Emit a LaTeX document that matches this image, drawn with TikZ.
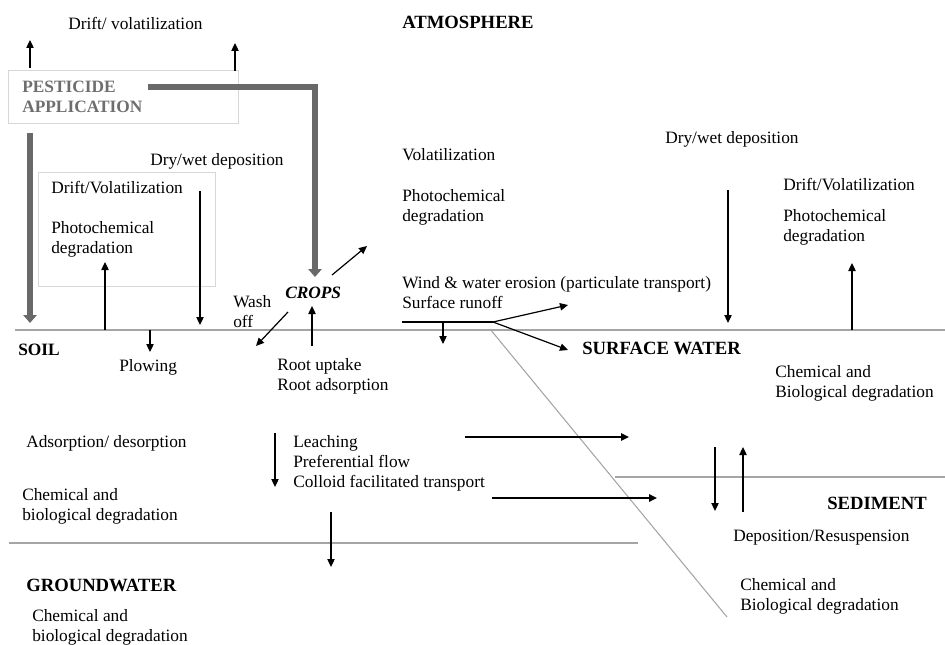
\documentclass[tikz,border=0pt]{standalone}
\usepackage{fontspec}
\setmainfont{Liberation Serif}
\usepackage{tikz}
\usetikzlibrary{arrows.meta}

\definecolor{boxgray}{RGB}{215,215,215}
\definecolor{linegray}{RGB}{165,165,165}
\definecolor{fatgray}{RGB}{105,105,105}
\definecolor{pestgray}{RGB}{110,110,110}

\tikzset{
  lbl/.style={anchor=west, inner sep=0pt, align=left, font=\fontsize{13}{15}\selectfont},
  hd/.style={lbl, font=\fontsize{14}{16}\selectfont\bfseries},
  arr/.style={-{Triangle[length=6pt,width=5.5pt]}, line width=0.9pt},
  fatarr/.style={-{Triangle[length=6pt,width=10pt]}, line width=5.2pt, color=fatgray},
  layer/.style={draw=linegray, line width=1.1pt},
  frame/.style={draw=boxgray, line width=0.7pt}
}

\begin{document}
\begin{tikzpicture}[x=0.75pt,y=-0.75pt]
  \useasboundingbox (0,0) rectangle (945,645);

  % compartments
  \draw[frame] (8,70) rectangle (238,123);
  \draw[frame] (38,172) rectangle (215,286);
  \draw[layer] (15,330) -- (945,330);
  \draw[layer] (9,543) -- (638,543);
  \draw[layer] (615,477) -- (945,477);
  \draw[draw=linegray, line width=0.8pt] (490,329) -- (727,617);

  % labels
  \draw (68,23) node[lbl] (drifttop) {Drift/ volatilization};
  \draw (402,22) node[hd] (atmosphere) {ATMOSPHERE};
  \draw (22,97) node[lbl, font=\fontsize{13}{15}\selectfont\bfseries, text=pestgray] (pesticide) {PESTICIDE\\APPLICATION};
  \draw (150,161) node[lbl] (drywetL) {Dry/wet deposition};
  \draw (51,188) node[lbl] (driftL) {Drift/Volatilization};
  \draw (51,239) node[lbl] (photoL) {Photochemical\\degradation};
  \draw (285,293) node[lbl] (crops) {\textbf{\textit{CROPS}}};
  \draw (233,312) node[lbl] (washoff) {Wash\\off};
  \draw (402,155) node[lbl] (volat) {Volatilization};
  \draw (402,207) node[lbl] (photoM) {Photochemical\\degradation};
  \draw (402,293) node[lbl] (erosion) {Wind \& water erosion (particulate transport)\\Surface runoff};
  \draw (665,139) node[lbl] (drywetR) {Dry/wet deposition};
  \draw (783,185) node[lbl] (driftR) {Drift/Volatilization};
  \draw (783,227) node[lbl] (photoR) {Photochemical\\degradation};
  \draw (18,350) node[lbl, font=\fontsize{13}{15}\selectfont\bfseries] (soil) {SOIL};
  \draw (119,367) node[lbl] (plowing) {Plowing};
  \draw (277,376) node[lbl] (root) {Root uptake\\Root adsorption};
  \draw (582,348) node[hd] (surface) {SURFACE WATER};
  \draw (775,383) node[lbl] (chemSW) {Chemical and\\Biological degradation};
  \draw (26,443) node[lbl] (adsorp) {Adsorption/ desorption};
  \draw (293,463) node[lbl] (leaching) {Leaching\\Preferential flow\\Colloid facilitated transport};
  \draw (22,506) node[lbl] (chemSoil) {Chemical and\\biological degradation};
  \draw (827,503) node[hd] (sediment) {SEDIMENT};
  \draw (733,538) node[lbl] (deposition) {Deposition/Resuspension};
  \draw (26,585) node[hd] (groundwater) {GROUNDWATER};
  \draw (32,627) node[lbl] (chemGW) {Chemical and\\biological degradation};
  \draw (740,596) node[lbl] (chemSed) {Chemical and\\Biological degradation};

  % arrow ends
  \coordinate (upA0) at (30,68);   \coordinate (upA1) at (30,40);
  \coordinate (upB0) at (235,71);  \coordinate (upB1) at (235,43);
  \coordinate (fatA0) at (148,87); \coordinate (fatA1) at (315,277);
  \coordinate (fatB0) at (30,133); \coordinate (fatB1) at (30,323);
  \coordinate (depL0) at (200,191); \coordinate (depL1) at (200,325);
  \coordinate (volL0) at (105,330); \coordinate (volL1) at (105,262);
  \coordinate (wash0) at (288,312); \coordinate (wash1) at (256,346);
  \coordinate (upt0) at (312,346);  \coordinate (upt1) at (312,306);
  \coordinate (cvol0) at (332,275); \coordinate (cvol1) at (367,246);
  \coordinate (plow0) at (150,330); \coordinate (plow1) at (150,352);
  \coordinate (run0) at (402,322);  \coordinate (fork) at (493,322);
  \coordinate (rund) at (443,322);  \coordinate (rund1) at (443,344);
  \coordinate (runU) at (568,305);  \coordinate (runS) at (568,350);
  \coordinate (depR0) at (728,190); \coordinate (depR1) at (728,323);
  \coordinate (volR0) at (852,330); \coordinate (volR1) at (852,263);
  \coordinate (leach0) at (275,433); \coordinate (leach1) at (275,487);
  \coordinate (gw0) at (331,512);   \coordinate (gw1) at (331,567);
  \coordinate (flowA0) at (465,437); \coordinate (flowA1) at (629,437);
  \coordinate (flowB0) at (492,498); \coordinate (flowB1) at (657,498);
  \coordinate (sedD0) at (715,447); \coordinate (sedD1) at (715,511);
  \coordinate (sedU0) at (743,512); \coordinate (sedU1) at (743,447);

  % application
  \draw[fatarr] (fatA0) -| (fatA1);
  \draw[fatarr] (fatB0) -- (fatB1);

  \path[arr] (upA0) edge (upA1);
  \path[arr] (upB0) edge (upB1);
  \path[arr] (depL0) edge (depL1);
  \path[arr] (volL0) edge (volL1);
  \path[arr] (wash0) edge (wash1);
  \path[arr] (upt0) edge (upt1);
  \path[arr] (cvol0) edge (cvol1);
  \path[arr] (plow0) edge (plow1);
  \draw[line width=0.9pt] (run0) -- (fork);
  \path[arr] (rund) edge (rund1);
  \path[arr] (fork) edge (runU);
  \path[arr] (fork) edge (runS);
  \path[arr] (depR0) edge (depR1);
  \path[arr] (volR0) edge (volR1);
  \path[arr] (leach0) edge (leach1);
  \path[arr] (gw0) edge (gw1);
  \path[arr, line width=1.2pt] (flowA0) edge (flowA1);
  \path[arr, line width=1.2pt] (flowB0) edge (flowB1);
  \path[arr] (sedD0) edge (sedD1);
  \path[arr] (sedU0) edge (sedU1);

\end{tikzpicture}
\end{document}
